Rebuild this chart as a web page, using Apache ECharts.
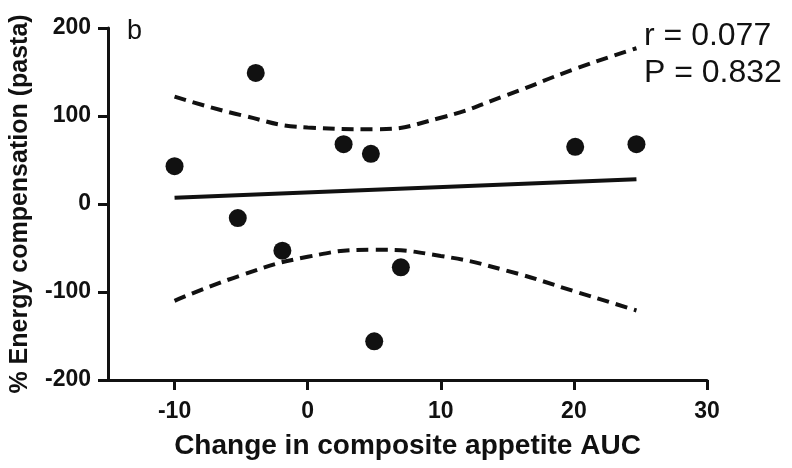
<!DOCTYPE html>
<html><head><meta charset="utf-8">
<script src="https://cdn.jsdelivr.net/npm/echarts@6/dist/echarts.min.js"></script>
<style>html,body{margin:0;padding:0;background:#fff}#c{width:792px;height:468px}</style>
</head><body><div id="c"></div>
<script>
const xValues = [-10, -3.9, -5.25, -1.9, 2.7, 4.75, 5.0, 7.0, 20.1, 24.7];
const yValues = [43, 149, -16, -53, 68, 57, -156, -72, 65, 68];
const fitX = [-10, 24.7];
const fitY = [7, 28];
const bandX = [-10, -5, 0, 5, 10, 15, 20, 24.7];
const upperBand = [122, 101, 87, 85, 98, 124, 153, 177];
const lowerBand = [-110, -81, -60, -52, -59, -76, -99, -121];
const xTicks = [-10, 0, 10, 20, 30];

const ink = '#111';
const zip = (a, b) => a.map((v, i) => [v, b[i]]);
const chart = echarts.init(document.getElementById('c'));
chart.setOption({
  animation: false,
  grid: {left: 108, right: 85, top: 28, bottom: 88, containLabel: false},
  xAxis: {
    type: 'value', min: -15, max: 30,
    splitLine: {show: false},
    axisLine: {onZero: false, lineStyle: {color: ink, width: 3}},
    axisTick: {show: true, length: 10, customValues: xTicks, lineStyle: {color: ink, width: 3}},
    axisLabel: {customValues: xTicks, color: ink, fontFamily: 'Liberation Sans, Arial', fontWeight: 'bold', fontSize: 23, margin: 20},
    name: 'Change in composite appetite AUC', nameLocation: 'middle', nameGap: 52,
    nameTextStyle: {color: ink, fontFamily: 'Liberation Sans, Arial', fontWeight: 'bold', fontSize: 28}
  },
  yAxis: {
    type: 'value', min: -200, max: 200, interval: 100,
    splitLine: {show: false},
    axisLine: {onZero: false, lineStyle: {color: ink, width: 3}},
    axisTick: {show: true, length: 10, lineStyle: {color: ink, width: 3}},
    axisLabel: {color: ink, fontFamily: 'Liberation Sans, Arial', fontWeight: 'bold', fontSize: 23, margin: 17},
    name: '% Energy compensation (pasta)', nameLocation: 'middle', nameGap: 75,
    nameTextStyle: {color: ink, fontFamily: 'Liberation Sans, Arial', fontWeight: 'bold', fontSize: 25}
  },
  series: [
    {type: 'line', data: zip(bandX, upperBand), smooth: true, symbol: 'none',
     lineStyle: {color: ink, width: 4, type: [12, 7]}},
    {type: 'line', data: zip(bandX, lowerBand), smooth: true, symbol: 'none',
     lineStyle: {color: ink, width: 4, type: [12, 7]}},
    {type: 'line', data: zip(fitX, fitY), symbol: 'none',
     lineStyle: {color: ink, width: 4}},
    {type: 'scatter', data: zip(xValues, yValues), symbol: 'circle', symbolSize: 18,
     itemStyle: {color: ink, opacity: 1}}
  ],
  graphic: [
    {type: 'text', left: 127, top: 18, style: {text: 'b', fill: ink, font: '27px "Liberation Sans", Arial'}},
    {type: 'text', left: 644, top: 18, style: {text: 'r = 0.077\nP = 0.832', fill: ink, font: '32px "Liberation Sans", Arial', lineHeight: 37}}
  ]
});
</script></body></html>
